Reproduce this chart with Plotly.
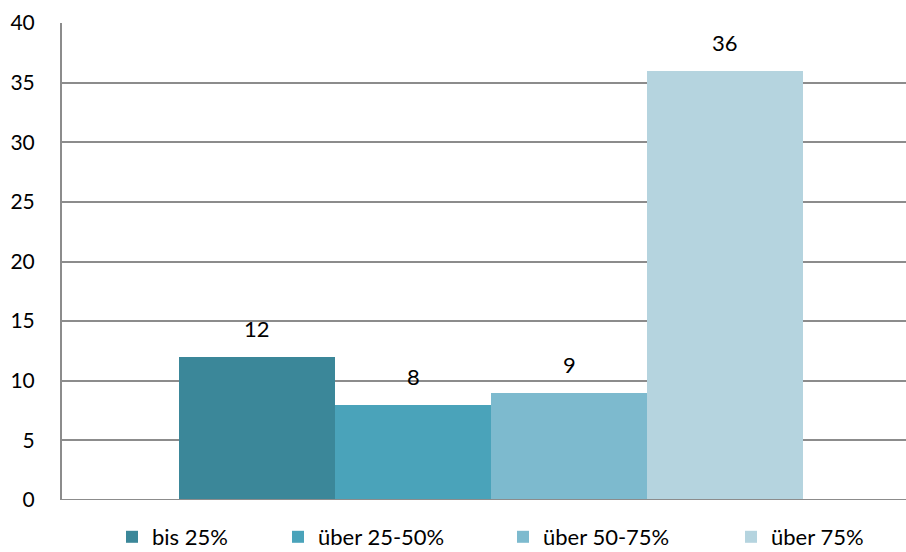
import plotly.graph_objects as go

series_names = ["bis 25%", "über 25-50%", "über 50-75%", "über 75%"]
series_values = [12, 8, 9, 36]
series_colors = ["#3B8799", "#4AA3BA", "#7DBACE", "#B5D4DF"]
y_ticks = [0, 5, 10, 15, 20, 25, 30, 35, 40]
legend_text_x = [152, 318, 543, 771]  # pixel start of legend texts

FONT = "Lato, 'Open Sans', sans-serif"
W, H = 906, 552

fig = go.Figure()
legend_ids = ["legend", "legend2", "legend3", "legend4"]
for i, (name, val, col) in enumerate(zip(series_names, series_values, series_colors)):
    fig.add_trace(go.Bar(
        x=[i], y=[val], name=name, width=1.0,
        marker=dict(color=col, line=dict(width=0)),
        legend=legend_ids[i],
        showlegend=True,
    ))
    fig.add_annotation(x=i, y=val, text=str(val), showarrow=False,
                       yanchor="bottom", yshift=13,
                       font=dict(size=22, color="#000000", family=FONT))

legend_common = dict(orientation="h", yref="container", xref="container",
                     y=(H - 537) / H, yanchor="middle", xanchor="left",
                     font=dict(size=22, family=FONT, color="#000000"),
                     itemwidth=30, bgcolor="rgba(0,0,0,0)", borderwidth=0)
layout_legends = {}
for lid, tx in zip(legend_ids, legend_text_x):
    d = dict(legend_common)
    d["x"] = (tx - 40) / W
    layout_legends[lid] = d

fig.update_layout(
    width=W, height=H,
    margin=dict(l=62, r=0, t=23, b=52, autoexpand=False),
    paper_bgcolor="white", plot_bgcolor="white",
    barmode="group", bargap=0, bargroupgap=0,
    font=dict(family=FONT, size=21, color="#000000"),
    showlegend=True,
    xaxis=dict(range=[-1.25, 4.16], showticklabels=False, showgrid=False,
               zeroline=False, showline=False, fixedrange=True),
    yaxis=dict(range=[0, 40], tickvals=y_ticks, showgrid=True, gridcolor="#8C8C8C",
               gridwidth=1.5, zeroline=False, showline=True, linecolor="#8C8C8C",
               linewidth=2, ticks="", ticklabelstandoff=21, automargin=False,
               tickfont=dict(size=21, family=FONT)),
    **layout_legends,
)
fig.add_shape(type="line", xref="paper", yref="y", x0=0, x1=1, y0=0, y1=0,
              line=dict(color="#8C8C8C", width=2))

fig.write_html("out.html", config={"displayModeBar": False},
               post_script="document.body.style.margin='0';document.body.style.overflow='hidden';")
